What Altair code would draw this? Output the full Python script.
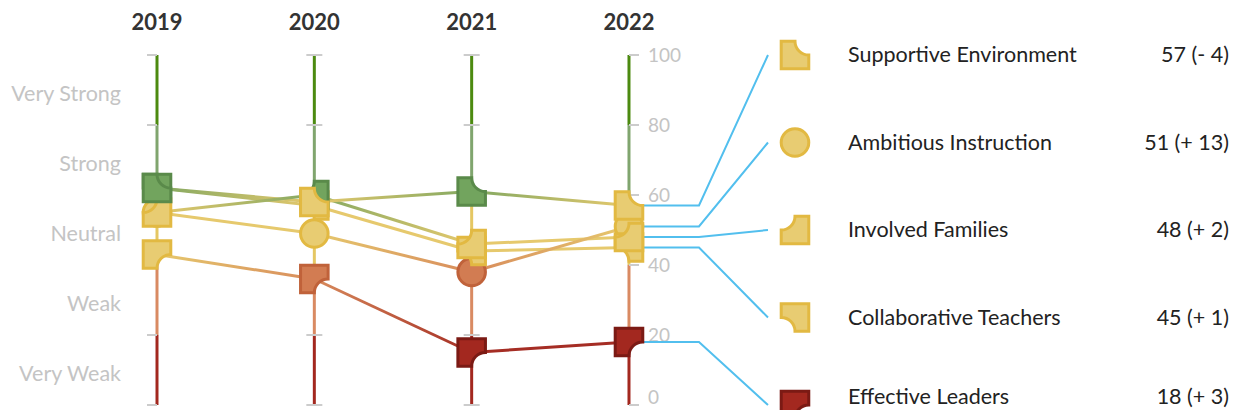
import altair as alt
import pandas as pd

# ---------------- data ----------------
years = [2019, 2020, 2021, 2022]
series = ["Supportive Environment", "Ambitious Instruction", "Involved Families",
          "Collaborative Teachers", "Effective Leaders"]
supportive_environment = [62, 58, 61, 57]
ambitious_instruction = [55, 49, 38, 51]
involved_families = [55, 60, 46, 48]
collaborative_teachers = [62, 57, 44, 45]
effective_leaders = [43, 36, 15, 18]
band_labels = ["Very Weak", "Weak", "Neutral", "Strong", "Very Strong"]
band_edges = [0, 20, 40, 60, 80, 100]
tick_values = [0, 20, 40, 60, 80, 100]

values = dict(zip(series, [supportive_environment, ambitious_instruction,
                           involved_families, collaborative_teachers, effective_leaders]))

# ---------------- layout / style ----------------
W, H = 1221, 402
PPY = 157.33          # px per year
X0_PX = 149           # plot px of first year
PPV = 3.5             # px per score unit
Y_TOP_PX = 47         # plot px of score 100
xd0 = years[0] - X0_PX / PPY
xd1 = xd0 + W / PPY
yd1 = 100 + Y_TOP_PX / PPV
yd0 = yd1 - H / PPV
TEXT_MIN = yd1 - (H - 13) / PPV   # lowest text centre that still fits inside the canvas
FONT = "Lato"


def px(d):
    return d / PPY


def band(v):
    return min(int(v // 20), 4)


def tclamp(v):
    return max(v, TEXT_MIN)


AXIS_C = ["#a3281f", "#d98a62", "#e5c763", "#80a56e", "#4c8a10"]
LINE_C = ["#a52d24", "#d88b5c", "#e6c96d", "#82a862", "#4c8a10"]
FILL_C = ["#a3281f", "#d27c52", "#e8cc72", "#72a45e", "#4f8a1f"]
STROKE_C = ["#7b1a14", "#c0623a", "#e2b942", "#5a8a4a", "#3d6e14"]
BLUE = "#52bfee"
SIZE = 760

SHAPES = [
    "M -1 -1 L 0 -1 A 1 1 0 0 0 1 0 L 1 1 L -1 1 Z",
    "M -1 0 A 1 1 0 1 1 1 0 A 1 1 0 1 1 -1 0 Z",
    "M 0 -1 L 1 -1 L 1 1 L -1 1 L -1 0 A 1 1 0 0 0 0 -1 Z",
    "M -1 -1 L 1 -1 L 1 1 L 0 1 A 1 1 0 0 0 -1 0 Z",
    "M -1 -1 L 1 -1 L 1 0 A 1 1 0 0 0 0 1 L -1 1 Z",
]
# drawing order of markers (bottom -> top)
DRAW_ORDER = ["Effective Leaders", "Ambitious Instruction", "Collaborative Teachers",
              "Involved Families", "Supportive Environment"]

xs = alt.Scale(domain=[xd0, xd1], nice=False, zero=False)
ys = alt.Scale(domain=[yd0, yd1], nice=False, zero=False)


def X(f):
    return alt.X(f, type="quantitative", scale=xs, axis=None)


def Y(f):
    return alt.Y(f, type="quantitative", scale=ys, axis=None)


shape_enc = alt.Shape("series:N", scale=alt.Scale(domain=series, range=SHAPES), legend=None)

layers = []

# vertical band axes
ax_rows = []
for yr in years:
    for k in range(5):
        ax_rows.append(dict(x=yr, y=band_edges[k], y2=band_edges[k + 1], c=AXIS_C[k]))
layers.append(alt.Chart(pd.DataFrame(ax_rows)).mark_rule(strokeWidth=3).encode(
    x=X("x"), y=Y("y"), y2="y2", stroke=alt.Stroke("c:N", scale=None)))

# ticks
tk_rows = []
offs = {0: (-10, 0), 1: (-8, 8), 2: (-8, 8), 3: (0, 10)}
for i, yr in enumerate(years):
    a, b = offs[i]
    for t in tick_values:
        tk_rows.append(dict(x=yr + px(a), x2=yr + px(b), y=t))
layers.append(alt.Chart(pd.DataFrame(tk_rows)).mark_rule(strokeWidth=2, color="#cccccc").encode(
    x=X("x"), x2="x2", y=Y("y")))

# right axis labels
layers.append(alt.Chart(pd.DataFrame(dict(t=tick_values,
                                          ty=[tclamp(t) for t in tick_values],
                                          x=[years[-1] + px(19)] * len(tick_values)))).mark_text(
    align="left", baseline="middle", font=FONT, fontSize=19, color="#c4c4c4", dy=1).encode(
    x=X("x"), y=Y("ty"), text=alt.Text("t:Q")))

# connecting segments with gradients
groups = {}
for s in series:
    v = values[s]
    for i in range(len(years) - 1):
        key = (band(v[i]), band(v[i + 1]))
        groups.setdefault(key, []).append(dict(x=years[i], x2=years[i + 1], y=v[i], y2=v[i + 1]))
for (b1, b2), rows in groups.items():
    if b1 == b2:
        stroke = LINE_C[b1]
    else:
        stroke = {"gradient": "linear", "x1": 0, "y1": 0, "x2": 1, "y2": 0,
                  "stops": [{"offset": 0, "color": LINE_C[b1]}, {"offset": 1, "color": LINE_C[b2]}]}
    layers.append(alt.Chart(pd.DataFrame(rows)).mark_rule(strokeWidth=3, stroke=stroke).encode(
        x=X("x"), x2="x2", y=Y("y"), y2="y2"))

# blue connectors to legend
cn_rows = []
for i, s in enumerate(series):
    last = values[s][-1]
    ly = 100 - 25 * i
    cn_rows += [dict(series=s, o=0, x=years[-1] + px(14), y=last),
                dict(series=s, o=1, x=years[-1] + px(70), y=last),
                dict(series=s, o=2, x=years[-1] + px(139), y=ly)]
layers.append(alt.Chart(pd.DataFrame(cn_rows)).mark_line(strokeWidth=2, color=BLUE).encode(
    x=X("x"), y=Y("y"), detail="series:N", order="o:Q"))

# markers
mk_rows = []
z = 0
for s in DRAW_ORDER:
    for yr, v in zip(years, values[s]):
        mk_rows.append(dict(series=s, x=yr, y=v, f=FILL_C[band(v)], st=STROKE_C[band(v)], z=z))
        z += 1
layers.append(alt.Chart(pd.DataFrame(mk_rows)).mark_point(filled=True, size=SIZE, strokeWidth=3, opacity=1).encode(
    x=X("x"), y=Y("y"), shape=shape_enc,
    fill=alt.Fill("f:N", scale=None), stroke=alt.Stroke("st:N", scale=None), order="z:Q"))

# legend
lg_rows = []
for i, s in enumerate(series):
    v = values[s]
    d = v[-1] - v[-2]
    sign = "+" if d >= 0 else "-"
    ly = 100 - 25 * i
    lg_rows.append(dict(series=s, y=ly, ty=tclamp(ly), mx=years[-1] + px(166), tx=years[-1] + px(219),
                        val=f"{v[-1]} ({sign} {abs(d)})",
                        f=FILL_C[band(v[-1])], st=STROKE_C[band(v[-1])]))
lg = pd.DataFrame(lg_rows)
layers.append(alt.Chart(lg).mark_point(filled=True, size=SIZE, strokeWidth=3, opacity=1).encode(
    x=X("mx"), y=Y("y"), shape=shape_enc,
    fill=alt.Fill("f:N", scale=None), stroke=alt.Stroke("st:N", scale=None)))
layers.append(alt.Chart(lg).mark_text(align="left", baseline="middle", font=FONT, fontSize=21.5,
                                      color="#222222", dy=1).encode(
    x=X("tx"), y=Y("ty"), text="series:N"))
layers.append(alt.Chart(lg).mark_text(align="right", baseline="middle", font=FONT, fontSize=21.5,
                                      color="#222222", dy=1).encode(
    x=alt.value(W), y=Y("ty"), text="val:N"))

# year labels
layers.append(alt.Chart(pd.DataFrame(dict(year=years))).mark_text(
    align="center", baseline="middle", font=FONT, fontSize=22, fontWeight="bold", color="#333333").encode(
    x=X("year"), y=alt.value(15), text=alt.Text("year:N")))

# band labels
layers.append(alt.Chart(pd.DataFrame(dict(label=band_labels, c=[e + 10 for e in band_edges[:-1]]))).mark_text(
    align="right", baseline="middle", font=FONT, fontSize=21.5, color="#c4c4c4", dy=5).encode(
    x=alt.value(113), y=Y("c"), text="label:N"))

chart = alt.layer(*layers).properties(
    width=W, height=H, padding=0, autosize=alt.AutoSizeParams(type="none")
).configure_view(stroke=None)

chart.save("out.html", embed_options={"renderer": "svg", "actions": False})
